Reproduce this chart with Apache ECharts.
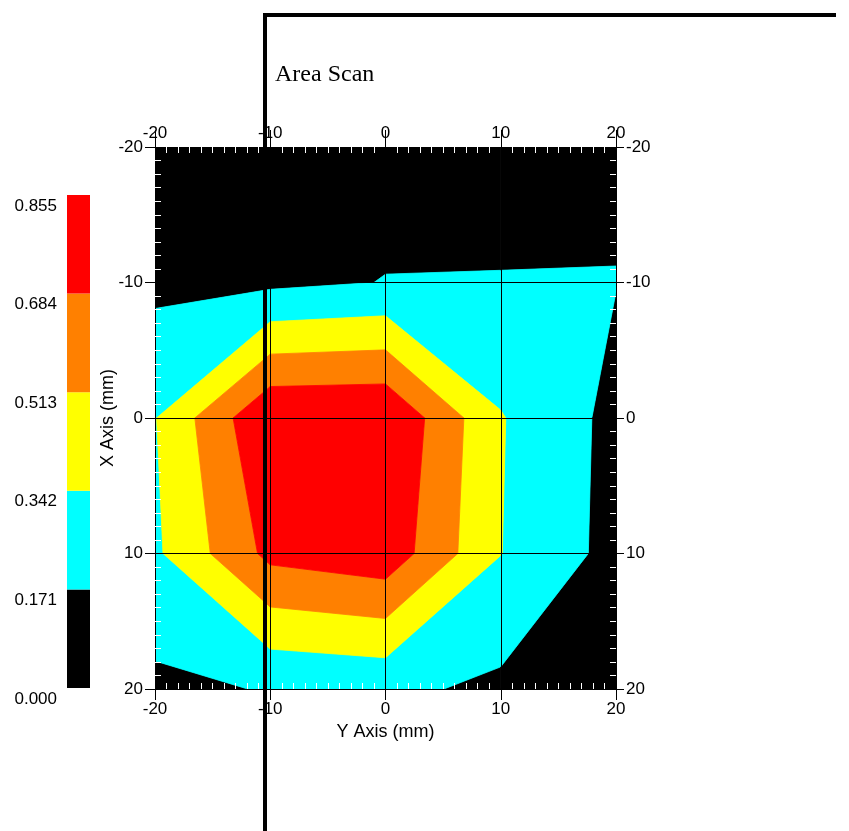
<!DOCTYPE html>
<html><head><meta charset="utf-8">
<script src="https://cdn.jsdelivr.net/npm/echarts@6/dist/echarts.min.js"></script>
<style>html,body{margin:0;padding:0;background:#fff}#c{width:849px;height:831px}</style>
</head><body><div id="c"></div>
<script>
// Scan grid positions (mm)
const scanY = [-20, -10, 0, 10, 20];   // horizontal axis: "Y Axis (mm)"
const scanX = [-20, -10, 0, 10, 20];   // vertical axis:   "X Axis (mm)"
// Measured amplitude, one row per X position
const rowXm20 = [0.050, 0.080, 0.110, 0.080, 0.145];
const rowXm10 = [0.132, 0.135, 0.175, 0.180, 0.1746];
const rowX0   = [0.335, 0.850, 0.855, 0.352, 0.123];
const rowX10  = [0.313, 0.730, 0.796, 0.345, 0.116];
const rowX20  = [0.134, 0.180, 0.206, 0.137, 0.080];
// Contour levels and colours
const levels = [0.000, 0.171, 0.342, 0.513, 0.684, 0.855];
const bandColors = ['#000000', '#00ffff', '#ffff00', '#ff8000', '#ff0000'];
const axisTickValues = [-20, -10, 0, 10, 20];
const legendCategory = ['scale'];

const rows = [rowXm20, rowXm10, rowX0, rowX10, rowX20];

function interp(P, Q, lim) {
  const t = (lim - P[2]) / (Q[2] - P[2]);
  return [P[0] + t * (Q[0] - P[0]), P[1] + t * (Q[1] - P[1]), lim];
}
function clip(poly, sign, lim) {
  const out = [];
  for (let i = 0; i < poly.length; i++) {
    const P = poly[i], Q = poly[(i + 1) % poly.length];
    const pin = sign * (P[2] - lim) >= 0, qin = sign * (Q[2] - lim) >= 0;
    if (pin && qin) out.push(Q);
    else if (pin && !qin) out.push(interp(P, Q, lim));
    else if (!pin && qin) { out.push(interp(P, Q, lim)); out.push(Q); }
  }
  return out;
}
// Filled contour bands, cell by cell (linear interpolation along cell edges)
const polys = [];
for (let r = 0; r < scanX.length - 1; r++) {
  for (let c = 0; c < scanY.length - 1; c++) {
    const cell = [
      [scanY[c], scanX[r], rows[r][c]],
      [scanY[c + 1], scanX[r], rows[r][c + 1]],
      [scanY[c + 1], scanX[r + 1], rows[r + 1][c + 1]],
      [scanY[c], scanX[r + 1], rows[r + 1][c]]
    ];
    for (let b = 0; b < bandColors.length; b++) {
      let p = cell;
      if (b > 0) p = clip(p, 1, levels[b]);
      if (p.length && b < bandColors.length - 1) p = clip(p, -1, levels[b + 1]);
      if (p.length >= 3) polys.push({ band: b, pts: p.map(q => [q[0], q[1]]) });
    }
  }
}
const polyData = polys.map((p, i) => {
  let sx = 0, sy = 0;
  p.pts.forEach(q => { sx += q[0]; sy += q[1]; });
  return [sx / p.pts.length, sy / p.pts.length, i];
});

const FONT = 'Liberation Sans';
const lab = (m, extra) => Object.assign({ margin: m, fontSize: 17, color: '#000', fontFamily: FONT }, extra || {});
const blackLine = { color: '#000', width: 1 };

function mainAxis(pos, tickLen, labMargin, extra) {
  return Object.assign({
    gridIndex: 0, type: 'value', position: pos, min: axisTickValues[0], max: axisTickValues[axisTickValues.length - 1],
    interval: 10, z: 5,
    axisLine: { show: true, onZero: false, lineStyle: blackLine },
    axisTick: { show: true, length: tickLen, lineStyle: blackLine },
    axisLabel: lab(labMargin),
    splitLine: { show: false },
    minorTick: { show: false }
  }, extra || {});
}
function innerAxis(pos, extra) {
  return Object.assign({
    gridIndex: 0, type: 'value', position: pos, min: -20, max: 20, interval: 10, z: 6,
    axisLine: { show: false, onZero: false },
    axisTick: { show: false, inside: true },
    minorTick: { show: true, splitNumber: 10, length: 6, lineStyle: { color: '#ffffff', width: 1 } },
    axisLabel: { show: false },
    splitLine: { show: false }
  }, extra || {});
}

const series = [{
  type: 'custom',
  xAxisIndex: 0, yAxisIndex: 0,
  clip: true,
  silent: true,
  data: polyData,
  renderItem: function (params, api) {
    const p = polys[params.dataIndex];
    const pts = p.pts.map(q => api.coord([q[0], q[1]]));
    const col = bandColors[p.band];
    return { type: 'polygon', shape: { points: pts }, style: { fill: col, stroke: col, lineWidth: 0.8 } };
  }
}];
for (let b = 0; b < bandColors.length; b++) {
  series.push({
    type: 'bar', xAxisIndex: 4, yAxisIndex: 4, stack: 'legend', silent: true,
    barWidth: '100%', data: [levels[b + 1] - levels[b]],
    itemStyle: { color: bandColors[b] }
  });
}

const option = {
  animation: false,
  backgroundColor: '#ffffff',
  title: {
    text: 'Area Scan', left: 270, top: 58,
    textStyle: { fontFamily: 'Liberation Serif', fontSize: 24, fontWeight: 'normal', color: '#000' }
  },
  grid: [
    { left: 155, top: 147, width: 461, height: 542, containLabel: false },
    { left: 67, top: 195, width: 23, height: 493, containLabel: false }
  ],
  xAxis: [
    mainAxis('bottom', 11, 12, {
      splitLine: { show: true, lineStyle: blackLine },
      name: 'Y Axis (mm)', nameLocation: 'middle', nameGap: 33,
      nameTextStyle: { fontSize: 18, color: '#000', fontFamily: FONT }
    }),
    mainAxis('top', 17, 5),
    innerAxis('bottom'),
    innerAxis('top'),
    { gridIndex: 1, type: 'category', data: legendCategory, show: false }
  ],
  yAxis: [
    mainAxis('left', 10, 12, {
      inverse: true,
      splitLine: { show: true, lineStyle: blackLine },
      name: 'X Axis (mm)', nameLocation: 'middle', nameGap: 38, nameRotate: 90, nameMoveOverlap: false,
      nameTextStyle: { fontSize: 18, color: '#000', fontFamily: FONT }
    }),
    mainAxis('right', 8, 10, { inverse: true }),
    innerAxis('left', { inverse: true }),
    innerAxis('right', { inverse: true }),
    {
      gridIndex: 1, type: 'value', position: 'left', min: levels[0], max: levels[levels.length - 1], interval: 0.171,
      axisLine: { show: false }, axisTick: { show: false }, splitLine: { show: false },
      axisLabel: lab(10, { verticalAlign: 'top', lineHeight: 22, formatter: v => v.toFixed(3) })
    }
  ],
  graphic: [
    { type: 'line', z: 100, shape: { x1: 265, y1: 13, x2: 265, y2: 831 }, style: { stroke: '#000', lineWidth: 4 } },
    { type: 'line', z: 100, shape: { x1: 263, y1: 15, x2: 836, y2: 15 }, style: { stroke: '#000', lineWidth: 4 } }
  ],
  series: series
};
const chart = echarts.init(document.getElementById('c'), null, { renderer: 'canvas' });
chart.setOption(option);
</script>
</body></html>
